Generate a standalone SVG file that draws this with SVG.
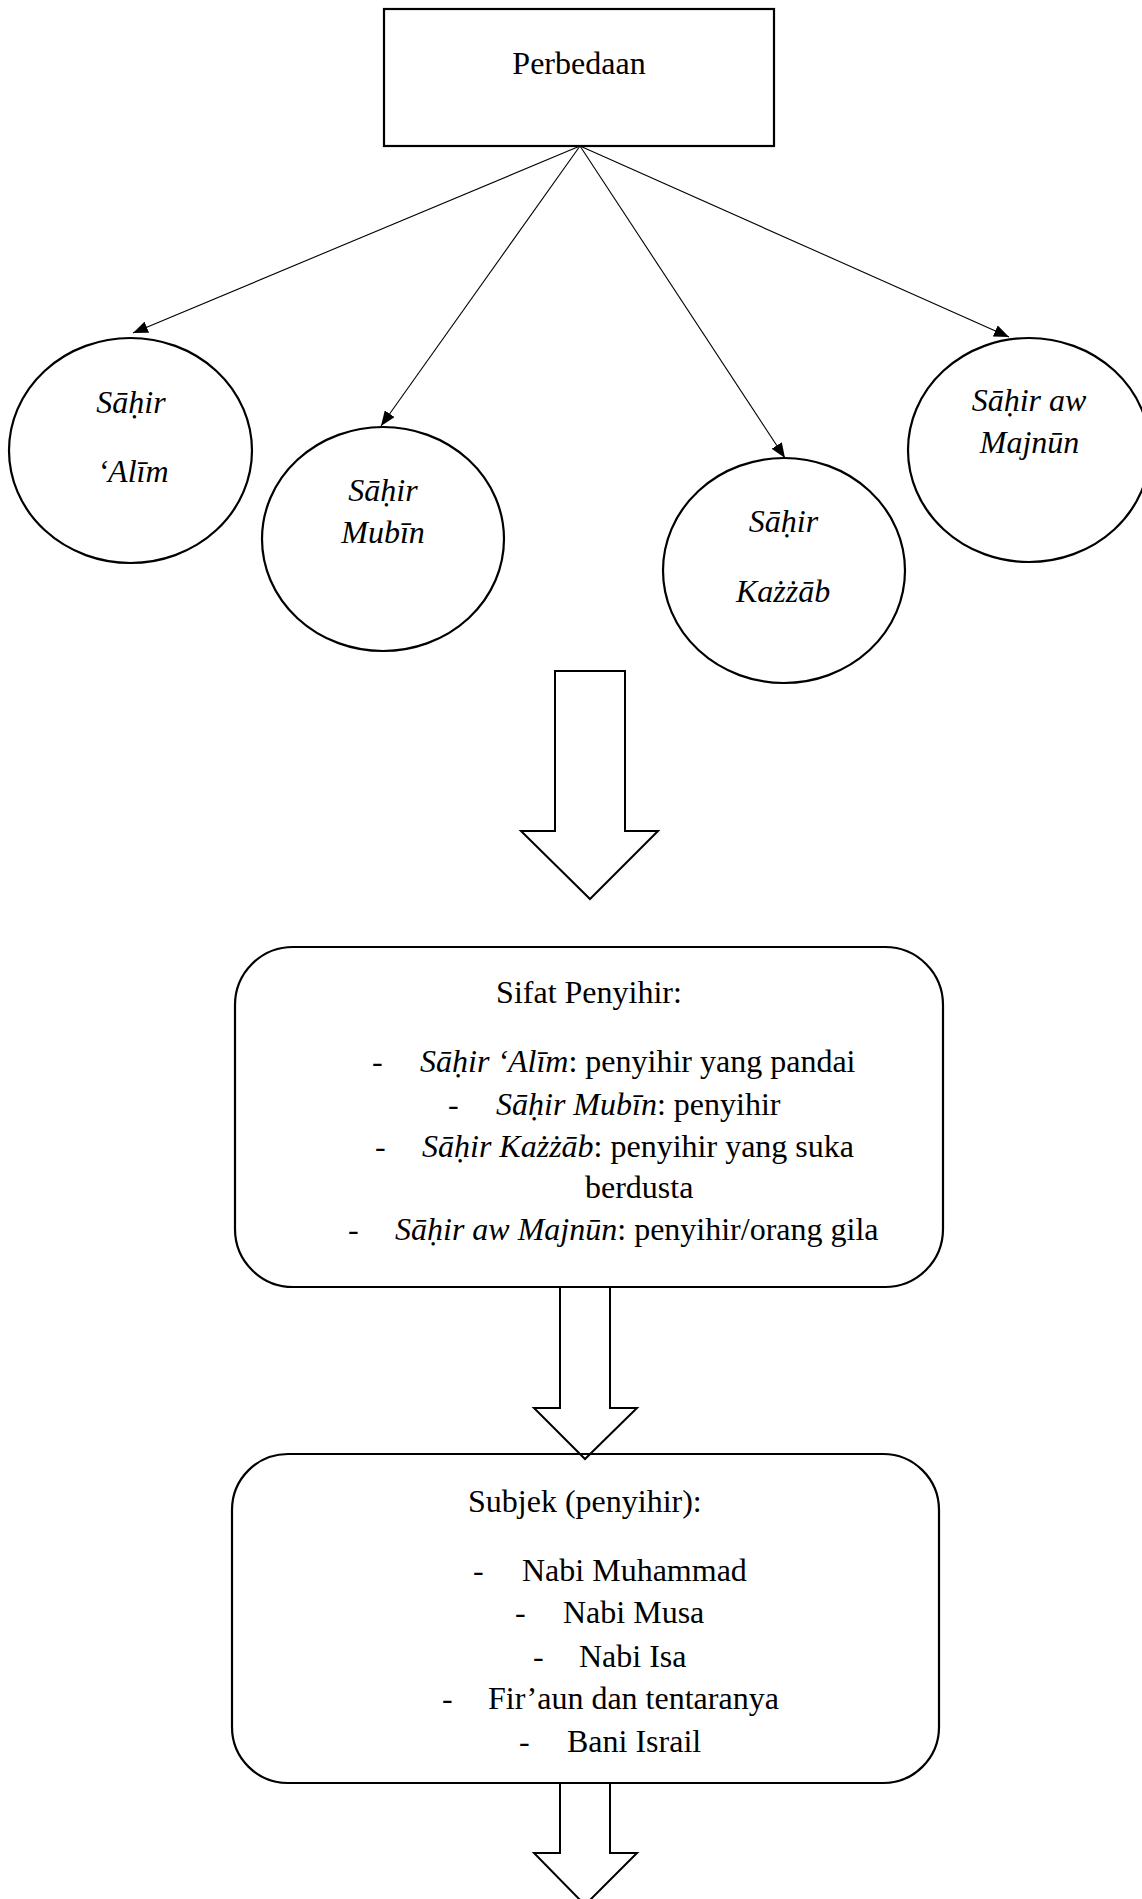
<svg xmlns="http://www.w3.org/2000/svg" width="1142" height="1899" viewBox="0 0 1142 1899">
<style>
text{font-family:"Liberation Serif","Times New Roman",serif;font-size:32px;fill:#000}
.i{font-style:italic}
.m{text-anchor:middle}
.shape{fill:none;stroke:#000;stroke-width:2.2}
.conn{stroke:#000;stroke-width:1.1;fill:none}
.block{fill:#fff;stroke:#000;stroke-width:2}
</style>
<defs>
<marker id="ah" markerUnits="userSpaceOnUse" markerWidth="16" markerHeight="12" refX="15" refY="6" orient="auto">
<path d="M0,0 L15,6 L0,12 z" fill="#000"/>
</marker>
</defs>
<rect width="1142" height="1899" fill="#fff"/>
<g id="connectors">
<line class="conn" x1="580" y1="146" x2="133" y2="333" marker-end="url(#ah)"/>
<line class="conn" x1="580" y1="146" x2="381" y2="426" marker-end="url(#ah)"/>
<line class="conn" x1="580" y1="146" x2="785" y2="458" marker-end="url(#ah)"/>
<line class="conn" x1="580" y1="146" x2="1009" y2="337" marker-end="url(#ah)"/>
<polygon class="block" points="555,671 625,671 625,831 658,831 590,899 521,831 555,831"/>
<polygon class="block" points="560,1287 610,1287 610,1408 637,1408 585,1459 534,1408 560,1408"/>
<polygon class="block" points="560,1783 610,1783 610,1853 637,1853 585,1905 534,1853 560,1853"/>
</g>
<g id="node-perbedaan">
<rect class="shape" x="384" y="9" width="390" height="137"/>
<text class="m" x="579" y="74">Perbedaan</text>
</g>
<g id="node-sahir-alim">
<ellipse class="shape" cx="130.5" cy="450.5" rx="121.5" ry="112.5"/>
<text class="i m" x="131" y="413">Sāḥir</text>
<text class="i m" x="133" y="482">‘Alīm</text>
</g>
<g id="node-sahir-mubin">
<ellipse class="shape" cx="383" cy="539" rx="121" ry="112"/>
<text class="i m" x="383" y="501">Sāḥir</text>
<text class="i m" x="383" y="543">Mubīn</text>
</g>
<g id="node-sahir-kazzab">
<ellipse class="shape" cx="784" cy="570.5" rx="121" ry="112.5"/>
<text class="i m" x="783.5" y="532">Sāḥir</text>
<text class="i m" x="783" y="602">Każżāb</text>
</g>
<g id="node-sahir-majnun">
<ellipse class="shape" cx="1029" cy="450" rx="121" ry="112"/>
<text class="i m" x="1029" y="411">Sāḥir aw</text>
<text class="i m" x="1029.5" y="453">Majnūn</text>
</g>
<g id="node-sifat">
<rect class="shape" x="235" y="947" width="708" height="340" rx="58" ry="58"/>
<text class="m" x="589" y="1003">Sifat Penyihir:</text>
<text x="372" y="1072">-</text>
<text x="420" y="1072"><tspan class="i">Sāḥir ‘Alīm</tspan>: penyihir yang pandai</text>
<text x="448" y="1115">-</text>
<text x="496" y="1115"><tspan class="i">Sāḥir Mubīn</tspan>: penyihir</text>
<text x="375" y="1157">-</text>
<text x="422" y="1157"><tspan class="i">Sāḥir Każżāb</tspan>: penyihir yang suka</text>
<text x="585" y="1198">berdusta</text>
<text x="348" y="1240">-</text>
<text x="395" y="1240"><tspan class="i">Sāḥir aw Majnūn</tspan>: penyihir/orang gila</text>
</g>
<g id="node-subjek">
<rect class="shape" x="232" y="1454" width="707" height="329" rx="56" ry="56"/>
<text x="468" y="1512">Subjek (penyihir):</text>
<text x="473" y="1581">-</text>
<text x="522" y="1581">Nabi Muhammad</text>
<text x="515" y="1623">-</text>
<text x="563" y="1623">Nabi Musa</text>
<text x="533" y="1667">-</text>
<text x="579" y="1667">Nabi Isa</text>
<text x="442" y="1709">-</text>
<text x="488" y="1709">Fir’aun dan tentaranya</text>
<text x="519" y="1752">-</text>
<text x="567" y="1752">Bani Israil</text>
</g>
</svg>
